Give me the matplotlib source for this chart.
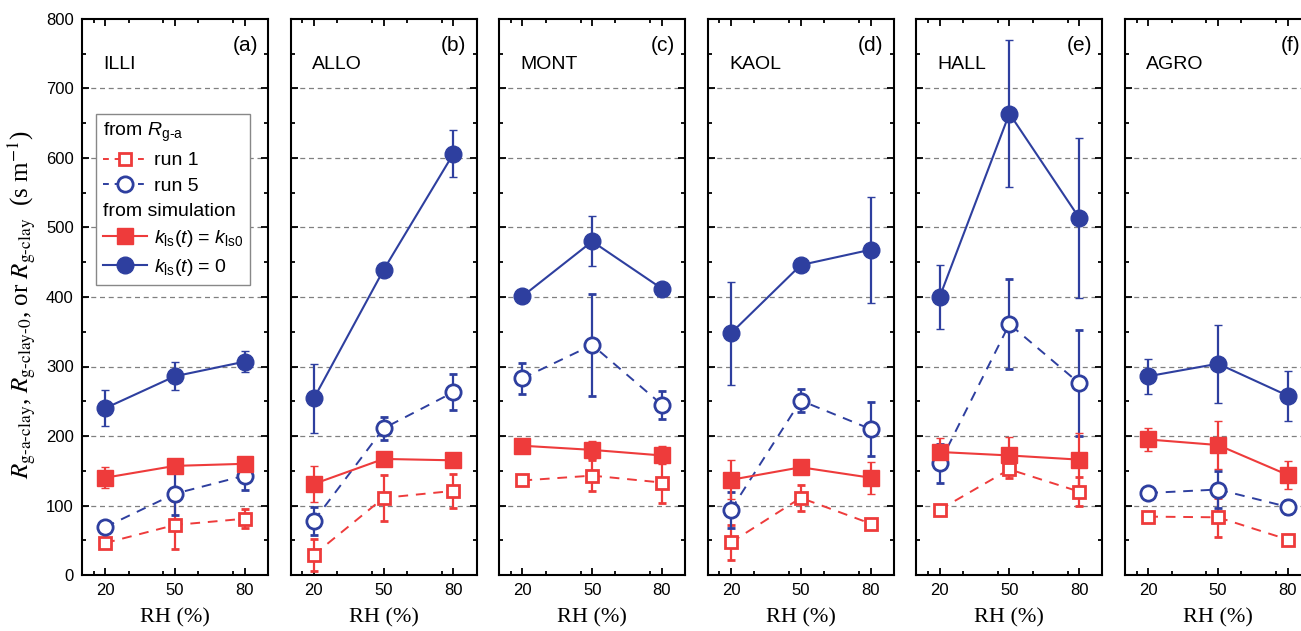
import matplotlib
matplotlib.use('Agg')
import matplotlib.pyplot as plt
from matplotlib.lines import Line2D
from matplotlib.ticker import MultipleLocator

plt.rcParams['font.family'] = 'Liberation Sans'
plt.rcParams['mathtext.fontset'] = 'custom'
plt.rcParams['mathtext.rm'] = 'Liberation Sans'
plt.rcParams['mathtext.it'] = 'Liberation Sans:italic'

# data
rh = [20, 50, 80]
clays = ['ILLI', 'ALLO', 'MONT', 'KAOL', 'HALL', 'AGRO']
panel_tags = ['(a)', '(b)', '(c)', '(d)', '(e)', '(f)']

run1 = [[46, 72, 81], [29, 111, 121], [136, 143, 133],
        [47, 111, 74], [94, 152, 120], [84, 83, 51]]
run1_err = [[5, 34, 14], [23, 33, 24], [5, 22, 29],
            [25, 19, 5], [5, 13, 21], [5, 28, 5]]

run5 = [[69, 117, 143], [78, 211, 263], [283, 331, 245],
        [94, 251, 210], [161, 361, 276], [118, 123, 98]]
run5_err = [[5, 30, 20], [20, 17, 26], [22, 73, 20],
            [26, 16, 39], [28, 65, 76], [5, 27, 10]]

sim_kls0 = [[140, 157, 160], [131, 167, 165], [186, 180, 172],
            [137, 155, 140], [177, 172, 166], [195, 187, 144]]
sim_kls0_err = [[15, 6, 5], [26, 5, 5], [5, 13, 13],
                [28, 5, 23], [20, 26, 38], [17, 35, 20]]

sim_zero = [[240, 286, 307], [254, 439, 606], [401, 480, 412],
            [348, 446, 468], [400, 664, 514], [286, 304, 258]]
sim_zero_err = [[26, 20, 15], [50, 5, 34], [5, 36, 5],
                [74, 5, 76], [46, 106, 115], [25, 56, 36]]

red = '#EE3B3B'
blue = '#2E3F9F'

fig = plt.figure(figsize=(13.01, 6.31), dpi=100)

left0 = 82 / 1301
step = 208.6 / 1301
w = 186 / 1301
bottom = 56 / 631
h = 556 / 631

for i in range(6):
    ax = fig.add_axes([left0 + i * step, bottom, w, h])
    ax.set_xlim(10, 90)
    ax.set_ylim(0, 800)
    for y in range(100, 800, 100):
        ax.axhline(y, color='#808080', ls=(0, (4, 3)), lw=0.9, zorder=0)

    ax.errorbar(rh, run1[i], yerr=run1_err[i], color=red, ls=(0, (5, 4)), lw=1.4,
                marker='s', ms=9, mfc='white', mec=red, mew=2, capsize=3, elinewidth=1.6)
    ax.errorbar(rh, run5[i], yerr=run5_err[i], color=blue, ls=(0, (5, 4)), lw=1.4,
                marker='o', ms=11, mfc='white', mec=blue, mew=2, capsize=3, elinewidth=1.6)
    ax.errorbar(rh, sim_kls0[i], yerr=sim_kls0_err[i], color=red, ls='-', lw=1.5,
                marker='s', ms=11, capsize=3, elinewidth=1.6)
    ax.errorbar(rh, sim_zero[i], yerr=sim_zero_err[i], color=blue, ls='-', lw=1.5,
                marker='o', ms=12, capsize=3, elinewidth=1.6)

    ax.set_xticks(rh)
    ax.xaxis.set_minor_locator(MultipleLocator(15))
    ax.yaxis.set_major_locator(MultipleLocator(100))
    ax.yaxis.set_minor_locator(MultipleLocator(50))
    ax.tick_params(which='both', direction='in', top=True, right=True, width=1.3)
    ax.tick_params(which='major', length=5, labelsize=12, pad=6)
    ax.tick_params(which='minor', length=3)
    for sp in ax.spines.values():
        sp.set_linewidth(1.5)
    if i > 0:
        ax.set_yticklabels([])
    else:
        ax.set_ylabel(r'$R_{\mathrm{g\text{-}a\text{-}clay}}$, $R_{\mathrm{g\text{-}clay\text{-}0}}$, or $R_{\mathrm{g\text{-}clay}}$  (s m$^{-1}$)',
                      family='Liberation Serif', fontsize=18,
                      math_fontfamily='stix')
        ax.yaxis.set_label_coords(-0.235, 0.487)
    ax.set_xlabel('RH (%)', family='Liberation Serif', fontsize=16, labelpad=7)

    ax.text(0.115, 735, clays[i], transform=ax.get_yaxis_transform(),
            fontsize=14, va='center', ha='left')
    ax.text(0.945, 762, panel_tags[i], transform=ax.get_yaxis_transform(),
            fontsize=15, va='center', ha='right')

    if i == 0:
        blank = Line2D([], [], ls='none')
        handles = [
            blank,
            Line2D([], [], color=red, ls=(0, (3, 3)), lw=1.4, marker='s', ms=9,
                   mfc='white', mec=red, mew=2),
            Line2D([], [], color=blue, ls=(0, (3, 3)), lw=1.4, marker='o', ms=11,
                   mfc='white', mec=blue, mew=2),
            blank,
            Line2D([], [], color=red, lw=1.5, marker='s', ms=11),
            Line2D([], [], color=blue, lw=1.5, marker='o', ms=12),
        ]
        labels = [r'from $R_{\mathrm{g\text{-}a}}$', 'run 1', 'run 5', 'from simulation',
                  r'$k_{\mathrm{ls}}(t)$ = $k_{\mathrm{ls0}}$', r'$k_{\mathrm{ls}}(t)$ = 0']
        leg = ax.legend(handles, labels, loc='upper left', bbox_to_anchor=(0.075, 0.829),
                        fontsize=14, handlelength=2.3, handletextpad=0.35,
                        labelspacing=0.4, borderpad=0.35, fancybox=False,
                        edgecolor='#888888', framealpha=1, borderaxespad=0)
        leg.get_frame().set_linewidth(1.0)
        # header rows: drop the empty handle so the text starts at the left
        rows = leg._legend_handle_box.get_children()[0].get_children()
        for k in (0, 3):
            rows[k].get_children()[0].width = 0
            rows[k].sep = 0

fig.savefig('out.png', dpi=100)
